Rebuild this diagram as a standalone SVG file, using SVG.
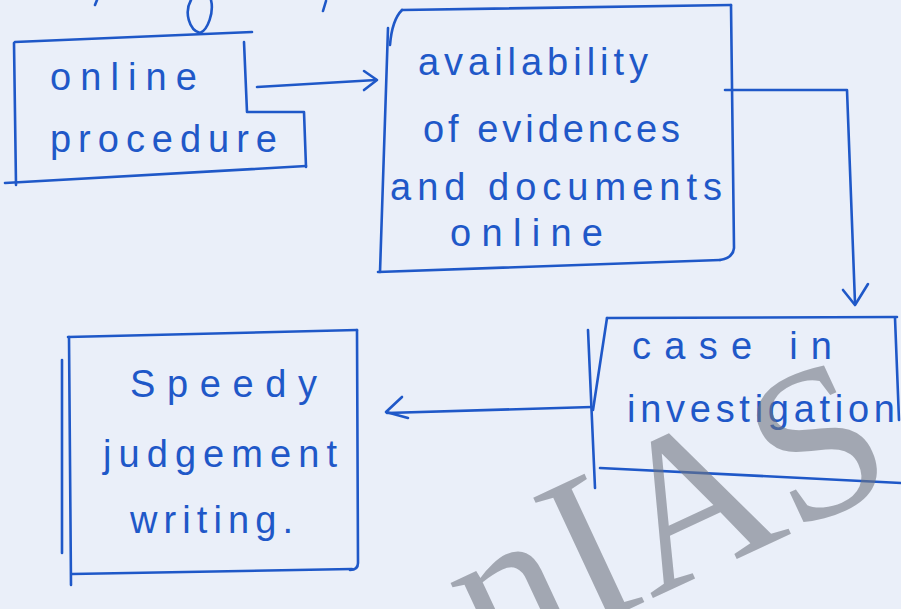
<svg xmlns="http://www.w3.org/2000/svg" width="901" height="609" viewBox="0 0 901 609">
  <defs>
    <style>
      .ink { fill: none; stroke: #1f58c8; stroke-width: 2.6; stroke-linecap: round; stroke-linejoin: round; }
      .hand { fill: #1f58c8; font-family: "Liberation Sans", "DejaVu Sans", sans-serif; font-size: 38px; }
      .mark { fill: #6e737d; fill-opacity: 0.58; font-family: "Liberation Serif", "DejaVu Serif", serif; }
    </style>
  </defs>

  <!-- paper -->
  <rect x="0" y="0" width="901" height="609" fill="#eaeff9"/>

  <!-- stray strokes along the top edge -->
  <g id="top-strokes">
    <path class="ink" d="M191,0 C184,12 189,30 200,33 C208,30 214,12 211,0"/>
    <path class="ink" d="M97,0 L95,5"/>
    <path class="ink" d="M326,1 L323,11"/>
  </g>

  <g id="connectors">
    <!-- online procedure -> availability -->
    <path class="ink" d="M257,87 L376,80"/>
    <path class="ink" d="M364,71 L377,80 L364,90"/>
    <!-- availability -> case in investigation -->
    <path class="ink" d="M725,90 L847,90 L855,303"/>
    <path class="ink" d="M843,290 L855,305 L868,284"/>
    <!-- case in investigation -> speedy judgement -->
    <path class="ink" d="M592,407 L387,413"/>
    <path class="ink" d="M402,397 L386,412 L408,418"/>
  </g>

  <g id="node-online-procedure">
    <path class="ink" d="M15,42 L252,32"/>
    <path class="ink" d="M14,43 L16,185"/>
    <path class="ink" d="M5,183 L306,166"/>
    <path class="ink" d="M244,42 L247,112 L304,112 L306,167"/>
    <text class="hand" x="50" y="90" textLength="147">online</text>
    <text class="hand" x="50" y="152" textLength="227">procedure</text>
  </g>

  <g id="node-availability">
    <path class="ink" d="M402,10 L731,5"/>
    <path class="ink" d="M731,5 L734,248 Q733,258 720,260"/>
    <path class="ink" d="M378,272 L720,260"/>
    <path class="ink" d="M388,28 L380,272"/>
    <path class="ink" d="M402,10 Q392,20 390,45"/>
    <text class="hand" x="418" y="75" textLength="230">availability</text>
    <text class="hand" x="423" y="142" textLength="257">of evidences</text>
    <text class="hand" x="390" y="200" textLength="332">and documents</text>
    <text class="hand" x="450" y="246" textLength="153">online</text>
  </g>

  <g id="node-case-in-investigation">
    <path class="ink" d="M588,330 L595,488"/>
    <path class="ink" d="M607,318 L593,410"/>
    <path class="ink" d="M607,318 L897,317"/>
    <path class="ink" d="M895,318 L899,420"/>
    <path class="ink" d="M600,468 L901,483"/>
    <text class="hand" x="632" y="359" font-size="40" textLength="200">case in</text>
    <text class="hand" x="627" y="422" font-size="40" textLength="268">investigation</text>
  </g>

  <g id="node-speedy-judgement">
    <path class="ink" d="M68,337 L357,330"/>
    <path class="ink" d="M69,337 L71,585"/>
    <path class="ink" d="M62,360 L62,553"/>
    <path class="ink" d="M357,330 L358,563 Q358,570 350,570"/>
    <path class="ink" d="M72,574 L352,569"/>
    <text class="hand" x="130" y="397" font-size="42" textLength="187">Speedy</text>
    <text class="hand" x="103" y="467" font-size="40" textLength="234">judgement</text>
    <text class="hand" x="130" y="533" font-size="40" textLength="163">writing.</text>
  </g>

  <!-- watermark -->
  <text class="mark" transform="translate(488,675) rotate(-25)" font-size="216">nIAS</text>
</svg>
